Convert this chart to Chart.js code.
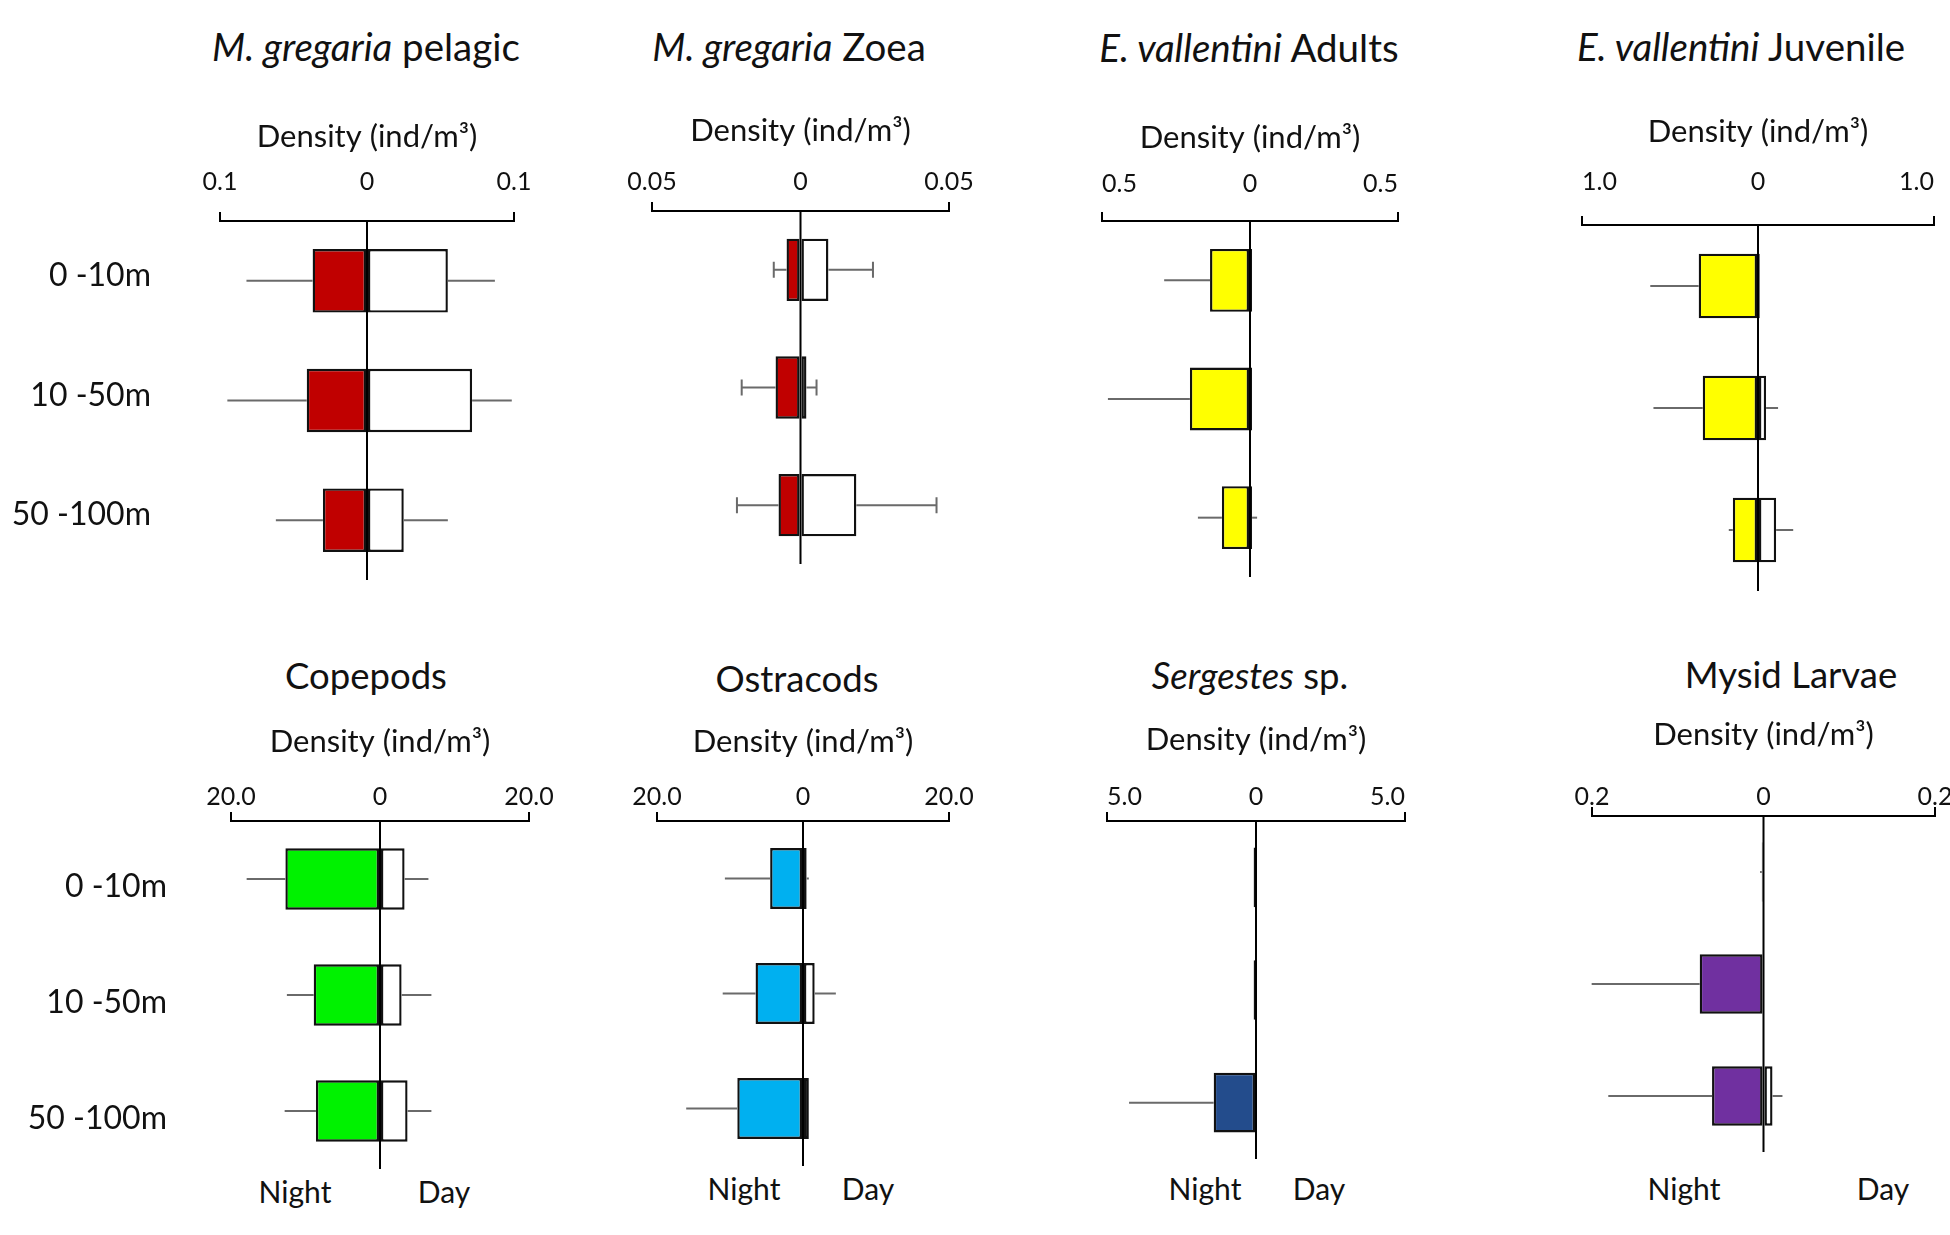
<!DOCTYPE html>
<html><head><meta charset="utf-8">
<script src="https://cdn.jsdelivr.net/npm/chart.js@4"></script>
<style>
html,body{margin:0;padding:0;background:#fff;}
body{width:1950px;height:1235px;position:relative;overflow:hidden;font-family:Lato,sans-serif;color:#111;}
canvas{position:absolute;}
.ttl{position:absolute;transform:translate(-50%,-50%);white-space:nowrap;}
.nd{position:absolute;transform:translate(-50%,-50%);white-space:nowrap;font-size:30px;}
</style></head><body>
<script>
// ---------- data ----------
const depthLabels = ['0 -10m', '10 -50m', '50 -100m'];

const pelagicNight = [0.037, 0.041, 0.030];
const pelagicNightErr = [0.045, 0.054, 0.032];
const pelagicDay = [0.055, 0.0715, 0.025];
const pelagicDayErr = [0.032, 0.027, 0.030];

const zoeaNight = [0.0047, 0.0084, 0.0074];
const zoeaNightErr = [0.0043, 0.0114, 0.014];
const zoeaDay = [0.0094, 0.002, 0.0188];
const zoeaDayErr = [0.015, 0.0034, 0.027];

const adultsNight = [0.135, 0.203, 0.095];
const adultsNightErr = [0.155, 0.277, 0.081];
const adultsDay = [0.007, 0.007, 0.007];
const adultsDayErr = [0, 0, 0.017];

const juvNight = [0.337, 0.314, 0.143];
const juvNightErr = [0.275, 0.28, 0.023];
const juvDay = [0.01, 0.046, 0.103];
const juvDayErr = [0, 0.068, 0.097];

const copeNight = [12.7, 8.9, 8.6];
const copeNightErr = [5.2, 3.6, 4.2];
const copeDay = [3.3, 2.9, 3.7];
const copeDayErr = [3.2, 4.0, 3.2];

const ostraNight = [4.5, 6.5, 9.0];
const ostraNightErr = [6.2, 4.5, 7.0];
const ostraDay = [0.5, 1.6, 0.8];
const ostraDayErr = [0.3, 2.9, 0];

const sergNight = [0.08, 0.08, 1.42];
const sergNightErr = [0, 0, 2.84];
const sergDay = [0, 0, 0];
const sergDayErr = [0, 0, 0];

const mysidNight = [0.002, 0.0744, 0.060];
const mysidNightErr = [0.002, 0.126, 0.121];
const mysidDay = [0, 0, 0.0105];
const mysidDayErr = [0, 0, 0.0116];

const axisMax = [0.1, 0.05, 0.5, 1.0, 20, 20, 5, 0.2];
const tickText = [
  ['0.1', '0', '0.1'], ['0.05', '0', '0.05'], ['0.5', '0', '0.5'], ['1.0', '0', '1.0'],
  ['20.0', '0', '20.0'], ['20.0', '0', '20.0'], ['5.0', '0', '5.0'], ['0.2', '0', '0.2']
];
const titleItalic = ['M. gregaria', 'M. gregaria', 'E. vallentini', 'E. vallentini', '', '', 'Sergestes', ''];
const titlePlain = [' pelagic', ' Zoea', ' Adults', ' Juvenile', 'Copepods', 'Ostracods', ' sp.', 'Mysid Larvae'];
const axisTitle = 'Density (ind/m³)';
const nightLabel = 'Night', dayLabel = 'Day';

const nightSeries = [pelagicNight, zoeaNight, adultsNight, juvNight, copeNight, ostraNight, sergNight, mysidNight];
const nightErrSeries = [pelagicNightErr, zoeaNightErr, adultsNightErr, juvNightErr, copeNightErr, ostraNightErr, sergNightErr, mysidNightErr];
const daySeries = [pelagicDay, zoeaDay, adultsDay, juvDay, copeDay, ostraDay, sergDay, mysidDay];
const dayErrSeries = [pelagicDayErr, zoeaDayErr, adultsDayErr, juvDayErr, copeDayErr, ostraDayErr, sergDayErr, mysidDayErr];

// ---------- styles / layout ----------
const nightColors = ['#C00000', '#C00000', '#FFFF00', '#FFFF00', '#00F200', '#00B0F0', '#234C8C', '#7030A0'];
const FONT = 'Lato, sans-serif';
const panels = [
  {ax:[220,514], y:221, row:119.5, dens:137, tick:182, title:[366,46], tfs:38.5, side:true, labRight:159, labOff:-5},
  {ax:[652,949], y:211, row:117.5, dens:131, tick:182, title:[789,46], tfs:38.5, cap:16},
  {ax:[1102,1398], y:221, row:118.5, dens:138, tick:184, title:[1249,47], tfs:38.5, inner:true},
  {ax:[1582,1934], y:225, row:122, dens:132, tick:182, title:[1741,46], tfs:38.5, inner:true},
  {ax:[231,529], y:821, row:116, dens:742, tick:797, title:[366,675], tfs:36.5, side:true, labRight:175, labOff:8, nd:[[295,1191],[444,1191]]},
  {ax:[657,949], y:821, row:115, dens:742, tick:797, title:[797,678], tfs:36.5, nd:[[744,1188],[868,1188]]},
  {ax:[1107,1405], y:821, row:112.5, dens:740, tick:797, title:[1250,675], tfs:36.5, inner:true, nd:[[1205,1188],[1319,1188]]},
  {ax:[1592,1935], y:816, row:112, dens:735, tick:797, title:[1791,674], tfs:36.5, nd:[[1684,1188],[1883,1188]]}
];

const errPlugin = {
  id: 'errbars',
  afterDatasetsDraw(chart, args, opts) {
    const ctx = chart.ctx, xs = chart.scales.x;
    chart.data.datasets.forEach((ds, i) => {
      const meta = chart.getDatasetMeta(i);
      meta.data.forEach((bar, j) => {
        const v = ds.data[j], e = ds.errors[j];
        if (!e) return;
        const s = (ds.side < 0) ? -1 : 1;
        const x0 = xs.getPixelForValue(v), x1 = xs.getPixelForValue(v + s * e);
        ctx.save();
        ctx.strokeStyle = opts.color; ctx.lineWidth = opts.width;
        ctx.beginPath();
        ctx.moveTo(x0, bar.y); ctx.lineTo(x1, bar.y);
        if (opts.cap) { ctx.moveTo(x1, bar.y - opts.cap / 2); ctx.lineTo(x1, bar.y + opts.cap / 2); }
        ctx.stroke(); ctx.restore();
      });
    });
    const z = xs.getPixelForValue(0);
    ctx.save();
    ctx.strokeStyle = '#000'; ctx.lineWidth = 2;
    ctx.beginPath(); ctx.moveTo(z, chart.chartArea.top); ctx.lineTo(z, chart.chartArea.bottom); ctx.stroke();
    ctx.restore();
  }
};

const TICK_FS = 25, TL = 9, DENS_FS = 31, ROW_FS = 32;

panels.forEach((p, k) => {
  const left = p.side ? 0 : p.ax[0] - 45;
  const right = Math.min(1950, p.ax[1] + 45);
  const top = p.dens - 25;
  const height = Math.round((p.y - top) + 3 * p.row + 4);
  const cv = document.createElement('canvas');
  cv.width = right - left; cv.height = height;
  cv.style.left = left + 'px'; cv.style.top = top + 'px';
  cv.style.width = (right - left) + 'px'; cv.style.height = height + 'px';
  document.body.appendChild(cv);

  const maxV = axisMax[k];
  const tickPad = (p.y - p.tick) - TL - TICK_FS * 1.2 / 2;
  const densPad = (p.dens - top) - DENS_FS * 1.2 / 2;

  new Chart(cv, {
    type: 'bar',
    data: {
      labels: depthLabels,
      datasets: [
        {label: nightLabel, data: nightSeries[k].map(v => -v), errors: nightErrSeries[k], side: -1,
         backgroundColor: nightColors[k], borderColor: '#111', borderWidth: 2.4, borderSkipped: false,
         barPercentage: 0.53, categoryPercentage: 1},
        {label: dayLabel, data: daySeries[k], errors: dayErrSeries[k], side: 1,
         backgroundColor: '#FFFFFF', borderColor: '#111', borderWidth: 2.4, borderSkipped: false,
         barPercentage: 0.53, categoryPercentage: 1}
      ]
    },
    options: {
      indexAxis: 'y', responsive: false, animation: false, devicePixelRatio: 1,
      layout: {padding: {left: p.side ? 0 : p.ax[0] - left, right: right - p.ax[1], top: 0, bottom: 4}},
      plugins: {legend: {display: false}, tooltip: {enabled: false},
        errbars: {color: '#6a6a6a', width: 2, cap: p.cap || 0}},
      scales: {
        x: {
          position: 'top', stacked: true, min: -maxV, max: maxV,
          afterBuildTicks: s => { s.ticks = [{value: -maxV}, {value: 0}, {value: maxV}]; },
          afterFit: s => { s.height = p.y - top; s.paddingLeft = 0; s.paddingRight = 0; },
          ticks: {callback: (v, i) => tickText[k][i], font: {family: FONT, size: TICK_FS}, color: '#111',
                  padding: tickPad, maxRotation: 0, autoSkip: false, align: p.inner ? 'inner' : 'center'},
          grid: {drawOnChartArea: false, drawTicks: true, tickLength: TL, lineWidth: 2,
                 color: c => (c.tick && c.tick.value === 0) ? 'rgba(0,0,0,0)' : '#000'},
          border: {display: true, color: '#000', width: 2},
          title: {display: true, text: axisTitle, font: {family: FONT, size: DENS_FS}, color: '#111',
                  padding: {top: densPad, bottom: 0}}
        },
        y: {
          stacked: true, display: !!p.side,
          afterFit: s => { if (p.side) s.width = p.ax[0] - left; s.paddingTop = 0; s.paddingBottom = 0; },
          ticks: {font: {family: FONT, size: ROW_FS}, color: '#111', padding: p.side ? p.ax[0] - p.labRight : 0,
                  labelOffset: p.labOff || 0},
          grid: {display: false}, border: {display: false}
        }
      }
    },
    plugins: [errPlugin]
  });

  const t = document.createElement('div');
  t.className = 'ttl';
  t.style.fontSize = p.tfs + 'px';
  t.style.left = p.title[0] + 'px'; t.style.top = p.title[1] + 'px';
  if (titleItalic[k]) { const it = document.createElement('i'); it.textContent = titleItalic[k]; t.appendChild(it); }
  t.appendChild(document.createTextNode(titlePlain[k]));
  document.body.appendChild(t);

  if (p.nd) {
    [nightLabel, dayLabel].forEach((txt, m) => {
      const d = document.createElement('div');
      d.className = 'nd'; d.textContent = txt;
      d.style.left = p.nd[m][0] + 'px'; d.style.top = p.nd[m][1] + 'px';
      document.body.appendChild(d);
    });
  }
});
</script>
</body></html>
